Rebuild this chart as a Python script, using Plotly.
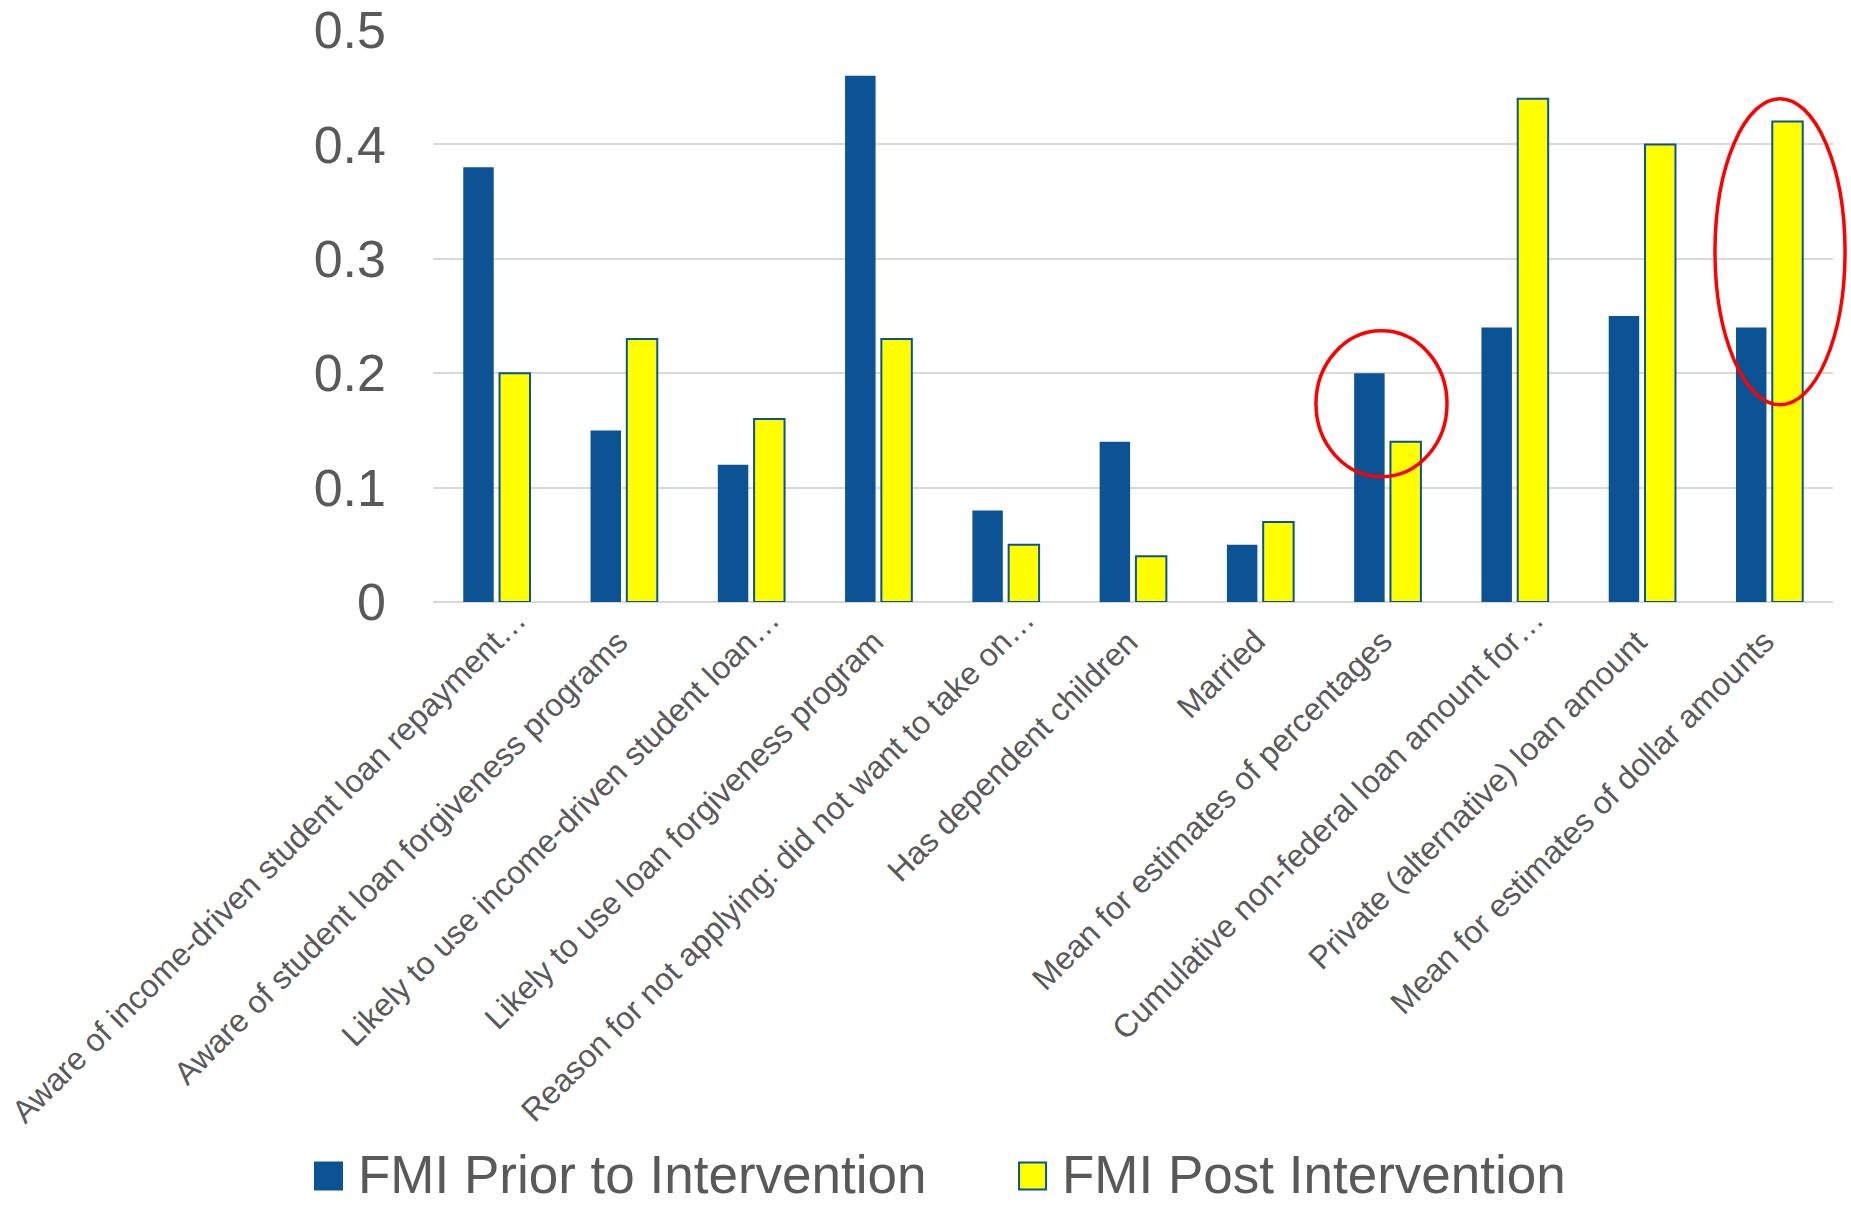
import plotly.graph_objects as go

# Survey items (x-axis categories)
categories = [
    "Aware of income-driven student loan repayment…",
    "Aware of student loan forgiveness programs",
    "Likely to use income-driven student loan…",
    "Likely to use loan forgiveness program",
    "Reason for not applying: did not want to take on…",
    "Has dependent children",
    "Married",
    "Mean for estimates of percentages",
    "Cumulative non-federal loan amount for…",
    "Private (alternative) loan amount",
    "Mean for estimates of dollar amounts",
]

series_prior_name = "FMI Prior to Intervention"
series_post_name = "FMI Post Intervention"
fmi_prior = [0.38, 0.15, 0.12, 0.46, 0.08, 0.14, 0.05, 0.20, 0.24, 0.25, 0.24]
fmi_post = [0.20, 0.23, 0.16, 0.23, 0.05, 0.04, 0.07, 0.14, 0.44, 0.40, 0.42]

y_tick_values = [0, 0.1, 0.2, 0.3, 0.4, 0.5]
y_tick_labels = ["0", "0.1", "0.2", "0.3", "0.4", "0.5"]

BLUE = "#0B5394"
YELLOW = "#FFFF00"
GRID = "#D9D9D9"
TEXT = "#595959"
FONT = "Liberation Sans, Arial, sans-serif"

fig = go.Figure()
fig.add_trace(go.Bar(
    x=categories, y=fmi_prior, name=series_prior_name,
    marker=dict(color=BLUE, line=dict(color=BLUE, width=0)),
    showlegend=False,
))
fig.add_trace(go.Bar(
    x=categories, y=fmi_post, name=series_post_name,
    marker=dict(color=YELLOW, line=dict(color=BLUE, width=2)),
    showlegend=False,
))

shapes = []
annotations = []

# Rotated category labels; shortened labels (ending in an ellipsis) sit a little further out
for cat in categories:
    shortened = cat.endswith("…")
    annotations.append(dict(
        xref="x", yref="paper", x=cat, y=0,
        xanchor="right", yanchor="top", textangle=-45,
        xshift=37 if shortened else 13, yshift=2 if shortened else -20,
        showarrow=False, borderpad=0, text=cat,
        font=dict(family=FONT, size=32, color=TEXT),
    ))

# Highlight ellipses (paper coordinates, so they are not clipped at the plot edge)
for x0, x1, y0, y1 in [(0.6307, 0.7243, 0.219, 0.474), (0.9157, 1.0086, 0.345, 0.88)]:
    shapes.append(dict(type="circle", xref="paper", yref="paper",
                       x0=x0, x1=x1, y0=y0, y1=y1,
                       line=dict(color="#FF0000", width=3.5), layer="above"))

# Legend drawn below the category labels
legend_items = [
    (series_prior_name, BLUE, BLUE, -0.0843, -0.065, -0.054),
    (series_post_name, YELLOW, BLUE, 0.4186, 0.4379, 0.4486),
]
for name, fill, edge, sx0, sx1, tx in legend_items:
    shapes.append(dict(type="rect", xref="paper", yref="paper",
                       x0=sx0, x1=sx1, y0=-1.0271, y1=-0.98,
                       fillcolor=fill, line=dict(color=edge, width=2)))
    annotations.append(dict(xref="paper", yref="paper", x=tx, y=-1.0017,
                            xanchor="left", yanchor="middle", showarrow=False,
                            borderpad=0, text=name,
                            font=dict(family=FONT, size=53, color=TEXT)))

fig.update_layout(
    width=1851, height=1205,
    margin=dict(l=433, r=18, t=30, b=603, autoexpand=False),
    paper_bgcolor="white", plot_bgcolor="white",
    barmode="group", bargap=0.43, bargroupgap=0.16,
    font=dict(family=FONT, color=TEXT),
    shapes=shapes, annotations=annotations,
    showlegend=False,
)
fig.update_xaxes(
    type="category", range=[-0.5, len(categories) - 0.5], showticklabels=False,
    showgrid=False, showline=False, ticks="",
)
fig.update_yaxes(
    range=[0, 0.5], tickvals=y_tick_values, ticktext=y_tick_labels,
    tickfont=dict(family=FONT, size=52, color=TEXT),
    showgrid=True, gridcolor=GRID, gridwidth=2,
    zeroline=True, zerolinecolor=GRID, zerolinewidth=2,
    showline=False, ticks="", ticklabelstandoff=46,
)

fig.write_html("out.html")
